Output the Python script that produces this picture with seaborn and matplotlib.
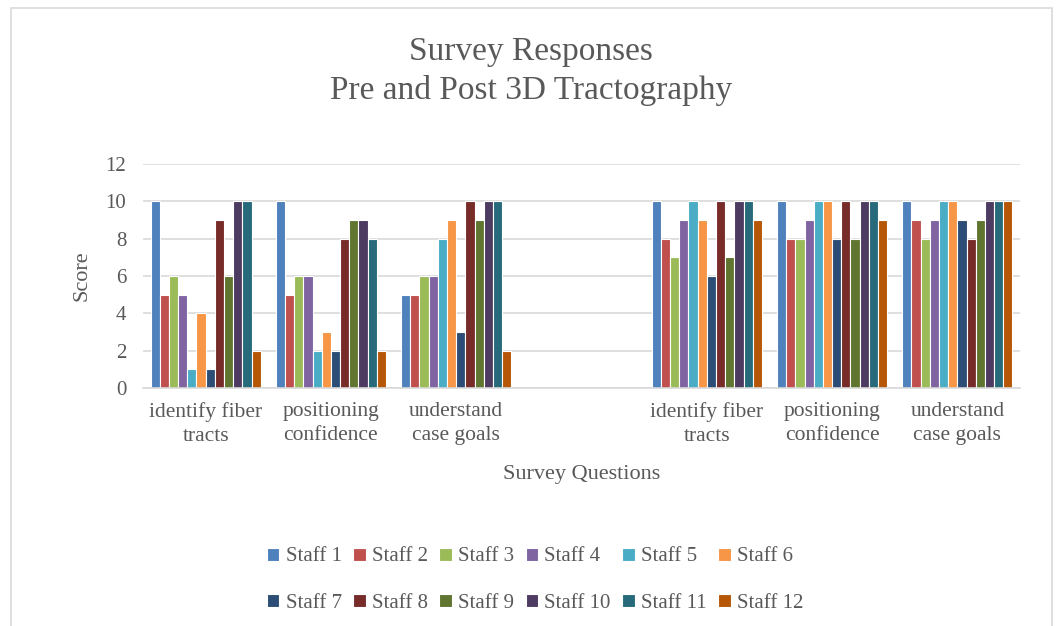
import matplotlib
matplotlib.use("Agg")
import matplotlib.pyplot as plt
import seaborn as sns
import pandas as pd
import numpy as np
from matplotlib.patches import Rectangle

# ---- data ----
staff = [f"Staff {i}" for i in range(1, 13)]
question_labels = ["identify fiber\ntracts", "positioning\nconfidence", "understand\ncase goals"]
category_keys = ["pre_identify", "pre_position", "pre_goals", "gap",
                 "post_identify", "post_position", "post_goals"]
tick_labels = question_labels + [""] + question_labels

pre_identify = [10, 5, 6, 5, 1, 4, 1, 9, 6, 10, 10, 2]
pre_position = [10, 5, 6, 6, 2, 3, 2, 8, 9, 9, 8, 2]
pre_goals = [5, 5, 6, 6, 8, 9, 3, 10, 9, 10, 10, 2]
post_identify = [10, 8, 7, 9, 10, 9, 6, 10, 7, 10, 10, 9]
post_position = [10, 8, 8, 9, 10, 10, 8, 10, 8, 10, 10, 9]
post_goals = [10, 9, 8, 9, 10, 10, 9, 8, 9, 10, 10, 10]

colors = ["#4F81BD", "#C0504D", "#9BBB59", "#8064A2", "#4BACC6", "#F79646",
          "#2C4D75", "#772C2A", "#5F7530", "#4D3B62", "#276A7C", "#B65708"]

series = {
    "pre_identify": pre_identify,
    "pre_position": pre_position,
    "pre_goals": pre_goals,
    "post_identify": post_identify,
    "post_position": post_position,
    "post_goals": post_goals,
}
rows = []
for key, vals in series.items():
    for s, v in zip(staff, vals):
        rows.append({"Question": key, "Staff": s, "Score": v})
df = pd.DataFrame(rows)

# ---- style ----
sns.set_theme(style="white")
plt.rcParams["font.family"] = ["Liberation Serif", "DejaVu Serif"]
text_color = "#595959"

fig = plt.figure(figsize=(10.57, 6.26), dpi=100)
ax = fig.add_axes([143 / 1057, 1 - 388 / 626, (1020 - 143) / 1057, (388 - 164) / 626])

sns.barplot(data=df, x="Question", y="Score", hue="Staff", order=category_keys,
            hue_order=staff, palette=colors, width=0.88, ax=ax,
            edgecolor="white", linewidth=0.8, errorbar=None, saturation=1)

ax.set_ylim(0, 12)
ax.set_yticks(np.arange(0, 13, 2))
ax.set_xlim(-0.5, len(category_keys) - 0.5)
ax.set_xticks(range(len(category_keys)))
ax.set_xticklabels(tick_labels, fontsize=15.5, color=text_color, linespacing=1.35)
ax.tick_params(axis="y", labelsize=15, labelcolor=text_color, length=0, pad=12)
ax.tick_params(axis="x", length=0, pad=10)
ax.yaxis.grid(True, color="#D9D9D9", linewidth=1.2)
ax.set_axisbelow(True)
for sp in ["top", "right", "left"]:
    ax.spines[sp].set_visible(False)
ax.spines["bottom"].set_color("#D9D9D9")
ax.spines["bottom"].set_linewidth(1.2)

ax.set_ylabel("Score", fontsize=16, color=text_color, labelpad=10)
ax.set_xlabel("Survey Questions", fontsize=16, color=text_color, labelpad=14)

fig.text(531 / 1057, 1 - 71 / 626, "Survey Responses\nPre and Post 3D Tractography",
         ha="center", va="center", fontsize=24, color=text_color, linespacing=1.35)

handles, labels = ax.get_legend_handles_labels()
ax.legend_.remove()
# reorder so the legend reads row by row (Staff 1-6 on top, 7-12 below)
order = []
for c in range(6):
    order += [c, c + 6]
fig.legend([handles[i] for i in order], [labels[i] for i in order], ncol=6, loc="center",
           bbox_to_anchor=(535 / 1057, 1 - 580 / 626),
           frameon=False, fontsize=15, labelcolor=text_color, handlelength=0.6,
           handleheight=0.6, handletextpad=0.3, columnspacing=0.55, labelspacing=1.3)

fig.add_artist(Rectangle((11 / 1057, -0.05), (1052 - 11) / 1057, 1 - 8 / 626 + 0.05,
                         transform=fig.transFigure, fill=False, edgecolor="#D9D9D9",
                         linewidth=1.2))

fig.savefig("out.png", dpi=100)
